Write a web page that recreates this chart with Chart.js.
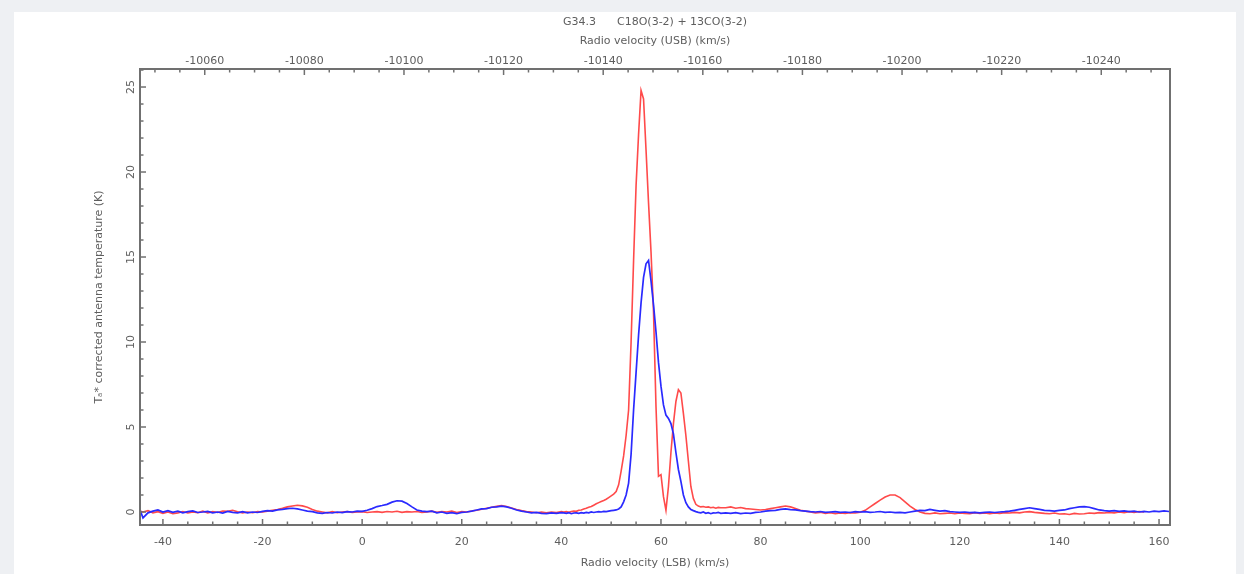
<!DOCTYPE html>
<html>
<head>
<meta charset="utf-8">
<script src="https://cdn.jsdelivr.net/npm/chart.js@4"></script>
<style>
  html, body { margin: 0; padding: 0; background: #eef0f3; width: 1244px; height: 574px; overflow: hidden; }
  #panel { position: absolute; left: 14px; top: 12px; width: 1222px; height: 562px; background: #fff; }
  #spec { position: absolute; left: 0; top: 0; }
</style>
</head>
<body>
<div id="panel"></div>
<canvas id="spec" width="1244" height="574"></canvas>
<script>
// LSB velocity channels (km/s)
const velocity = [
  -44.5, -44, -43, -42, -41, -40, -39, -38, -37, -36,
  -35, -34, -33, -32, -31, -30, -29, -28, -27, -26,
  -25, -24, -23, -22, -21, -20, -19, -18, -17, -16,
  -15, -14, -13, -12, -11, -10, -9, -8, -7, -6,
  -5, -4, -3, -2, -1, 0, 1, 2, 3, 4,
  5, 6, 7, 8, 9, 10, 11, 12, 13, 14,
  15, 16, 17, 18, 19, 20, 21, 22, 23, 24,
  25, 26, 27, 28, 29, 30, 31, 32, 33, 34,
  35, 36, 37, 38, 39, 40,
  40.5, 41, 41.5, 42, 42.5, 43, 43.5, 44, 44.5, 45,
  45.5, 46, 46.5, 47, 47.5, 48, 48.5, 49, 49.5, 50,
  50.5, 51, 51.5, 52, 52.5, 53, 53.5, 54, 54.5, 55,
  55.5, 56, 56.5, 57, 57.5, 58, 58.5, 59, 59.5, 60,
  60.5, 61, 61.5, 62, 62.5, 63, 63.5, 64, 64.5, 65,
  65.5, 66, 66.5, 67, 67.5, 68, 68.5, 69, 69.5, 70,
  70.5, 71, 71.5, 72,
  73, 74, 75, 76, 77, 78, 79, 80, 81, 82,
  83, 84, 85, 86, 87, 88, 89, 90, 91, 92,
  93, 94, 95, 96, 97, 98, 99, 100, 101, 102,
  103, 104, 105, 106, 107, 108, 109, 110, 111, 112,
  113, 114, 115, 116, 117, 118, 119, 120, 121, 122,
  123, 124, 125, 126, 127, 128, 129, 130, 131, 132,
  133, 134, 135, 136, 137, 138, 139, 140, 141, 142,
  143, 144, 145, 146, 147, 148, 149, 150, 151, 152,
  153, 154, 155, 156, 157, 158, 159, 160, 161, 162,
  162.5
];

// red trace, T*A (K)
const redT = [
  0.05, 0.00, 0.08, -0.05, 0.02, -0.08, 0.00, -0.10, -0.05, 0.03,
  -0.06, 0.00, -0.04, 0.05, -0.05, 0.02, -0.03, 0.06, 0.04, 0.10,
  0.02, -0.05, 0.00, -0.04, 0.02, 0.00, 0.05, 0.10, 0.15, 0.22,
  0.30, 0.35, 0.40, 0.36, 0.28, 0.15, 0.05, 0.00, -0.05, 0.02,
  -0.04, 0.00, 0.03, -0.02, 0.00, 0.02, -0.03, 0.00, 0.02, -0.02,
  0.03, 0.00, 0.04, -0.02, 0.02, 0.00, 0.03, -0.03, 0.00, 0.05,
  -0.02, 0.03, 0.00, 0.05, -0.03, 0.02, 0.00, 0.06, 0.10, 0.16,
  0.22, 0.28, 0.33, 0.38, 0.32, 0.24, 0.15, 0.08, 0.02, 0.00,
  -0.04, 0.00, -0.05, 0.00, -0.03, 0.02,
  0.00, 0.02, -0.02, 0.03, 0.05, 0.04, 0.10, 0.12, 0.18, 0.22,
  0.28, 0.32, 0.40, 0.48, 0.55, 0.62, 0.68, 0.75, 0.85, 0.95,
  1.05, 1.20, 1.60, 2.40, 3.30, 4.50, 6.00, 10.0, 14.8, 19.2,
  22.2, 24.8, 24.3, 21.3, 18.2, 15.3, 11.8, 6.2, 2.1, 2.2,
  0.9, 0.1, 1.5, 3.5, 5.2, 6.5, 7.2, 7.0, 5.8, 4.5,
  3.0, 1.5, 0.8, 0.45, 0.35, 0.30, 0.32, 0.28, 0.30, 0.25,
  0.28, 0.22, 0.27, 0.25,
  0.25, 0.30, 0.22, 0.26, 0.20, 0.18, 0.15, 0.12, 0.15, 0.20,
  0.25, 0.30, 0.35, 0.30, 0.20, 0.10, 0.05, 0.00, -0.05, -0.02,
  -0.08, -0.04, -0.10, -0.05, -0.08, -0.04, -0.06, -0.02, 0.10, 0.30,
  0.50, 0.70, 0.88, 1.00, 1.00, 0.85, 0.60, 0.35, 0.15, 0.00,
  -0.08, -0.10, -0.05, -0.10, -0.08, -0.06, -0.10, -0.05, -0.08, -0.10,
  -0.04, -0.08, -0.06, -0.10, -0.05, -0.08, -0.04, -0.06, -0.02, -0.05,
  0.00, 0.02, -0.02, -0.05, -0.08, -0.10, -0.06, -0.12, -0.10, -0.15,
  -0.08, -0.12, -0.10, -0.06, -0.08, -0.04, -0.06, -0.02, -0.05, 0.00,
  -0.04, 0.02, -0.02, 0.03, 0.00, null, null, null, null, null,
  null
];

// blue trace, T*A (K)
const blueT = [
  0.05, -0.35, -0.05, 0.05, 0.12, 0.00, 0.08, -0.02, 0.05, -0.05,
  0.02, 0.06, -0.03, 0.00, 0.04, -0.05, 0.00, -0.06, 0.03, -0.02,
  -0.05, 0.02, -0.05, 0.00, -0.03, 0.04, 0.08, 0.05, 0.12, 0.15,
  0.20, 0.22, 0.18, 0.12, 0.05, 0.02, -0.05, -0.08, -0.03, -0.06,
  0.00, -0.04, 0.02, 0.00, 0.05, 0.04, 0.10, 0.20, 0.32, 0.38,
  0.45, 0.58, 0.66, 0.64, 0.50, 0.30, 0.12, 0.05, 0.02, 0.05,
  -0.05, 0.00, -0.08, -0.04, -0.10, -0.02, 0.00, 0.05, 0.12, 0.18,
  0.20, 0.28, 0.30, 0.35, 0.30, 0.22, 0.12, 0.05, 0.00, -0.05,
  -0.02, -0.08, -0.10, -0.05, -0.08, -0.04,
  -0.05, -0.08, -0.04, -0.10, -0.06, -0.05, -0.08, -0.04, -0.06, -0.02,
  -0.05, 0.00, -0.03, 0.00, 0.02, 0.00, 0.04, 0.02, 0.05, 0.08,
  0.10, 0.12, 0.18, 0.30, 0.60, 1.00, 1.70, 3.40, 6.00, 8.20,
  10.4, 12.3, 13.8, 14.6, 14.8, 13.6, 12.2, 10.6, 8.8, 7.4,
  6.3, 5.7, 5.5, 5.2, 4.6, 3.5, 2.5, 1.8, 1.0, 0.55,
  0.30, 0.15, 0.08, 0.02, -0.02, -0.05, 0.00, -0.08, -0.04, -0.10,
  -0.05, -0.06, -0.02, -0.08,
  -0.05, -0.08, -0.04, -0.10, -0.06, -0.08, -0.02, 0.00, 0.05, 0.08,
  0.10, 0.15, 0.18, 0.14, 0.12, 0.08, 0.05, 0.02, 0.00, 0.03,
  -0.02, 0.00, 0.02, -0.02, 0.00, -0.03, 0.02, 0.00, 0.02, -0.02,
  0.00, 0.03, -0.02, 0.00, -0.04, -0.02, -0.05, 0.00, 0.05, 0.10,
  0.08, 0.15, 0.10, 0.05, 0.08, 0.02, 0.00, -0.02, 0.00, -0.04,
  -0.02, -0.05, -0.02, 0.00, -0.03, 0.00, 0.02, 0.05, 0.10, 0.15,
  0.20, 0.25, 0.20, 0.15, 0.10, 0.08, 0.05, 0.10, 0.12, 0.20,
  0.25, 0.30, 0.32, 0.28, 0.20, 0.12, 0.08, 0.05, 0.08, 0.04,
  0.06, 0.02, 0.05, 0.00, 0.04, 0.00, 0.05, 0.02, 0.06, 0.03,
  0.05
];

// axis ranges
const xMin = -44.6, xMax = 162.2;
const usbOffset = -10091.6;   // USB velocity = usbOffset - LSB velocity
const yMin = -0.765, yMax = 26.06;

const titleLines = ["G34.3      C18O(3-2) + 13CO(3-2)", "Radio velocity (USB) (km/s)"];
const xTitle = "Radio velocity (LSB) (km/s)";
const yTitle = "T\u2090* corrected antenna temperature (K)";

const FONT = "'DejaVu Sans', sans-serif";
const TXT = "#5e5e5e";
const FRAME = "#707070";

const framePlugin = {
  id: "frame",
  afterDatasetsDraw(chart) {
    const {ctx, chartArea: a, scales} = chart;
    ctx.save();
    ctx.strokeStyle = FRAME;
    ctx.lineWidth = 1.5;
    // inward ticks
    const tick = (x1, y1, x2, y2) => { ctx.beginPath(); ctx.moveTo(x1, y1); ctx.lineTo(x2, y2); ctx.stroke(); };
    const xs = scales.x, xt = scales.x2, ys = scales.y;
    for (let v = Math.ceil(xs.min / 5) * 5; v <= xs.max; v += 5) {
      const p = xs.getPixelForValue(v);
      tick(p, a.bottom, p, a.bottom - (v % 20 === 0 ? 6 : 3.5));
    }
    for (let v = Math.ceil(xt.min / 5) * 5; v <= xt.max; v += 5) {
      const p = xt.getPixelForValue(v);
      tick(p, a.top, p, a.top + (v % 20 === 0 ? 6 : 3.5));
    }
    for (let v = Math.ceil(ys.min); v <= ys.max; v += 1) {
      const p = ys.getPixelForValue(v);
      tick(a.left, p, a.left + (v % 5 === 0 ? 6 : 3.5), p);
    }
    ctx.lineWidth = 2;
    ctx.strokeRect(a.left, a.top, a.right - a.left, a.bottom - a.top);
    // rotated y tick labels
    ctx.fillStyle = TXT;
    ctx.font = "11px " + FONT;
    ctx.textAlign = "center";
    ctx.textBaseline = "middle";
    ys.ticks.forEach(t => {
      ctx.save();
      ctx.translate(a.left - 9, ys.getPixelForValue(t.value));
      ctx.rotate(-Math.PI / 2);
      ctx.fillText(String(t.value), 0, 0);
      ctx.restore();
    });
    ctx.restore();
  }
};

new Chart(document.getElementById("spec"), {
  type: "line",
  data: {
    datasets: [
      {
        label: "blue",
        data: velocity.map((v, i) => ({x: v, y: blueT[i]})),
        borderColor: "#2a2aff",
        borderWidth: 1.7,
        pointRadius: 0,
        tension: 0
      },
      {
        label: "red",
        data: velocity.map((v, i) => ({x: v, y: redT[i]})),
        borderColor: "#ff4a4a",
        borderWidth: 1.6,
        pointRadius: 0,
        tension: 0
      }
    ]
  },
  options: {
    responsive: false,
    animation: false,
    devicePixelRatio: 1,
    layout: {padding: {left: 0, right: 74, top: 0, bottom: 0}},
    plugins: {legend: {display: false}, tooltip: {enabled: false}},
    scales: {
      x: {
        type: "linear", position: "bottom", min: xMin, max: xMax,
        grid: {display: false}, border: {display: false},
        ticks: {stepSize: 20, includeBounds: false, color: TXT, font: {family: FONT, size: 11}, padding: 3, maxRotation: 0,
          callback: v => String(v)},
        title: {display: true, text: xTitle, color: TXT, font: {family: FONT, size: 11}, padding: {top: 0, bottom: 4}},
        afterFit: s => { s.height = 49; }
      },
      x2: {
        type: "linear", position: "top", reverse: true,
        min: usbOffset - xMax, max: usbOffset - xMin,
        grid: {display: false}, border: {display: false},
        ticks: {stepSize: 20, includeBounds: false, color: TXT, font: {family: FONT, size: 11}, padding: -7, maxRotation: 0,
          callback: v => String(v)},
        title: {display: true, text: titleLines, color: TXT, font: {family: FONT, size: 11, lineHeight: 1.727}, padding: {top: 12.5, bottom: 0}},
        afterFit: s => { s.height = 69; }
      },
      y: {
        type: "linear", position: "left", min: yMin, max: yMax,
        grid: {display: false}, border: {display: false},
        ticks: {stepSize: 5, includeBounds: false, display: false},
        title: {display: true, text: yTitle, color: TXT, font: {family: FONT, size: 11}, padding: {top: 93, bottom: 0}},
        afterFit: s => { s.width = 140; }
      }
    }
  },
  plugins: [framePlugin]
});
</script>
</body>
</html>
